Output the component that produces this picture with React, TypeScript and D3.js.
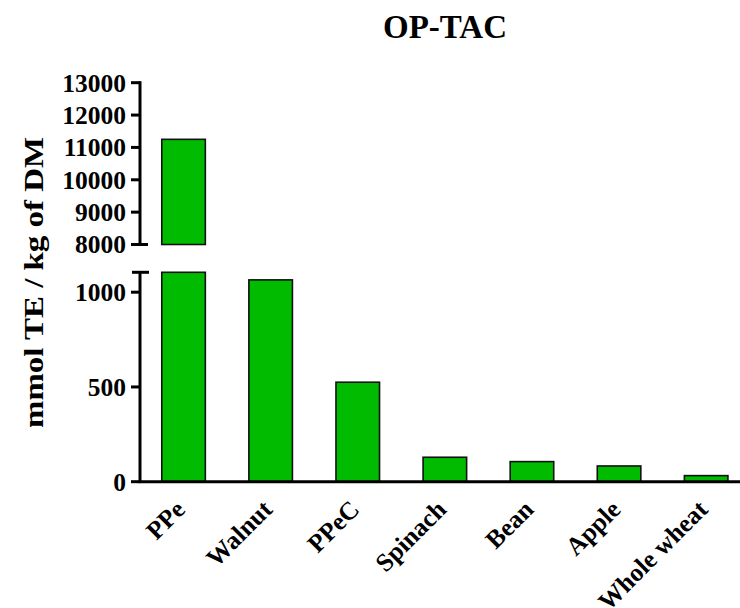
import React from "react";
import * as d3 from "d3";

const categories = ["PPe", "Walnut", "PPeC", "Spinach", "Bean", "Apple", "Whole wheat"];
const values = [11250, 1065, 525, 129, 106, 83, 32];
const upperTicks = [8000, 9000, 10000, 11000, 12000, 13000];
const lowerTicks = [0, 500, 1000];
const title = "OP-TAC";
const yLabel = "mmol TE / kg of DM";

const W = 740;
const H = 608;
const FONT = "'Liberation Serif', 'Times New Roman', serif";
const GREEN = "#00bb00";

export default function App() {
  const axisX = 140;
  const x = d3
    .scaleBand<string>()
    .domain(categories)
    .range([axisX, 749.7])
    .paddingInner(0.5)
    .paddingOuter(0.25);
  const breakLow = 1105;
  const yUpper = d3.scaleLinear().domain([8000, 13000]).range([244.5, 82.7]);
  const yLower = d3.scaleLinear().domain([0, breakLow]).range([481.7, 272.3]);

  return (
    <svg
      width={W}
      height={H}
      style={{ position: "absolute", left: 0, top: 0, background: "#fff" }}
      fontFamily={FONT}
      fontWeight="bold"
    >
      <rect x={0} y={0} width={W} height={H} fill="#fff" />
      <text x={445} y={38} textAnchor="middle" fontSize={33}>
        {title}
      </text>
      <text
        transform={`translate(43, 282.5) rotate(-90)`}
        textAnchor="middle"
        fontSize={28}
        textLength={291}
        lengthAdjust="spacingAndGlyphs"
      >
        {yLabel}
      </text>

      {/* bars */}
      {categories.map((c, i) => {
        const v = values[i];
        const bx = x(c)!;
        const bw = x.bandwidth();
        if (v > breakLow) {
          const top = yUpper(v);
          return (
            <g key={c}>
              <rect x={bx} y={top} width={bw} height={yUpper(8000) - top} fill={GREEN} stroke="#111" strokeWidth={1.6} />
              <rect x={bx} y={yLower(breakLow)} width={bw} height={yLower(0) - yLower(breakLow)} fill={GREEN} stroke="#111" strokeWidth={1.6} />
            </g>
          );
        }
        const top = yLower(v);
        return (
          <rect key={c} x={bx} y={top} width={bw} height={yLower(0) - top} fill={GREEN} stroke="#111" strokeWidth={1.6} />
        );
      })}

      {/* upper y axis */}
      <line x1={axisX} x2={axisX} y1={yUpper(13000) - 1.5} y2={yUpper(8000)} stroke="#000" strokeWidth={3} />
      <line x1={131} x2={148} y1={yUpper(8000)} y2={yUpper(8000)} stroke="#000" strokeWidth={3} />
      {upperTicks.map((t) => (
        <g key={t}>
          <line x1={131} x2={axisX} y1={yUpper(t)} y2={yUpper(t)} stroke="#000" strokeWidth={3} />
          <text x={126} y={yUpper(t)} dy="0.35em" textAnchor="end" fontSize={25.5}>
            {t}
          </text>
        </g>
      ))}

      {/* lower y axis */}
      <line x1={axisX} x2={axisX} y1={yLower(breakLow)} y2={yLower(0)} stroke="#000" strokeWidth={3} />
      <line x1={132} x2={149} y1={yLower(breakLow)} y2={yLower(breakLow)} stroke="#000" strokeWidth={3} />
      {lowerTicks.map((t) => (
        <g key={t}>
          <line x1={131} x2={axisX} y1={yLower(t)} y2={yLower(t)} stroke="#000" strokeWidth={3} />
          <text x={126} y={yLower(t)} dy="0.35em" textAnchor="end" fontSize={25.5}>
            {t}
          </text>
        </g>
      ))}

      {/* x axis */}
      <line x1={axisX - 1.5} x2={W} y1={yLower(0)} y2={yLower(0)} stroke="#000" strokeWidth={3} />
      {categories.map((c) => {
        const cx = x(c)! + x.bandwidth() / 2;
        return (
          <text
            key={c}
            transform={`translate(${cx + 3}, 511) rotate(-45)`}
            textAnchor="end"
            fontSize={25.5}
          >
            {c}
          </text>
        );
      })}
    </svg>
  );
}
